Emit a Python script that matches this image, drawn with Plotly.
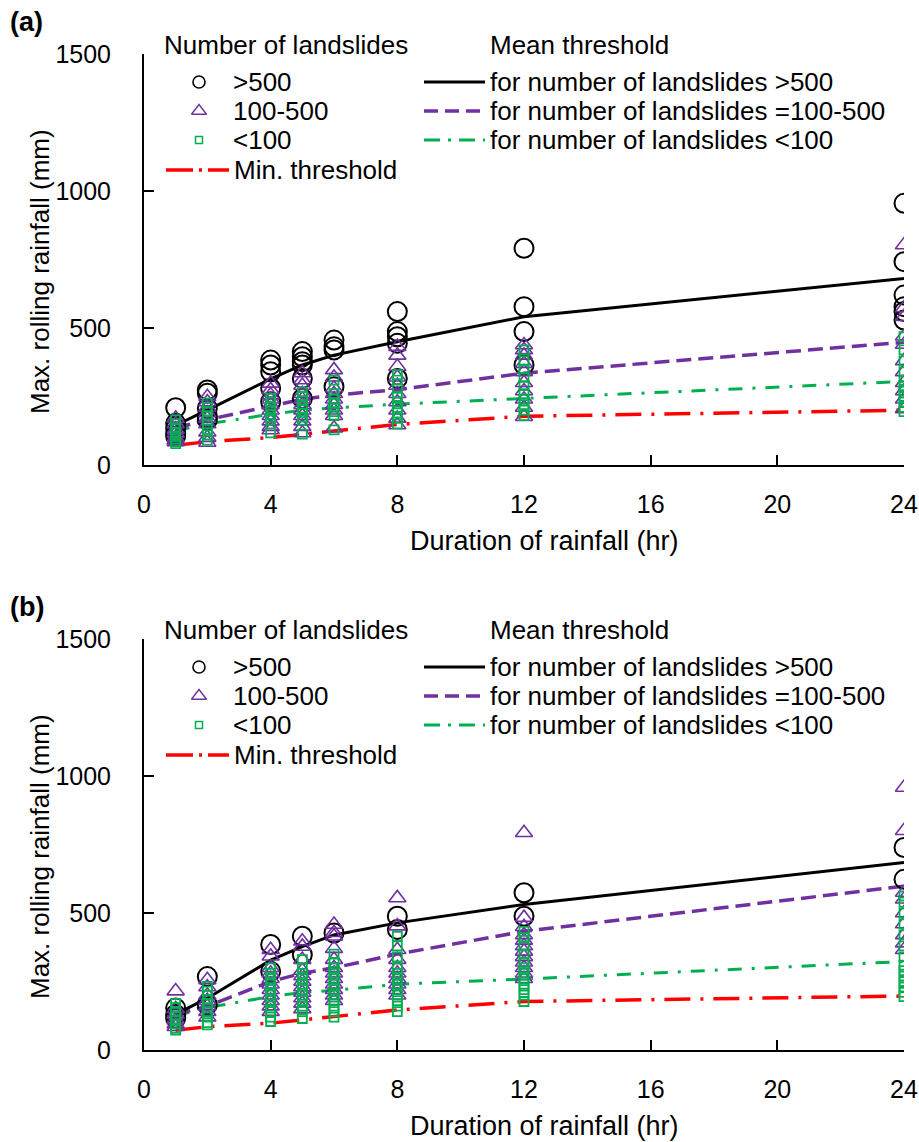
import plotly.graph_objects as go

# ---------------- data ----------------
HOURS = [1, 2, 4, 5, 6, 8, 12, 24]
X_TICKS = [0, 4, 8, 12, 16, 20, 24]
Y_TICKS = [0, 500, 1000, 1500]

# Panel (a): observed max rolling rainfall (mm) per duration
A_OVER500 = [[209, 152, 134, 116, 105],
             [274, 262, 207, 176, 165],
             [383, 365, 340, 280, 231],
             [414, 395, 377, 365, 316, 243],
             [456, 432, 420, 286],
             [560, 487, 468, 444, 316],
             [791, 578, 487, 365],
             [955, 742, 620, 578, 560, 529]]
A_100_500 = [[170, 150, 130, 115, 100, 90, 84],
             [249, 230, 210, 190, 170, 150, 120, 100, 82],
             [298, 274, 255, 240, 220, 200, 180, 160, 140, 128],
             [336, 310, 290, 260, 240, 220, 200, 180, 160, 140, 117],
             [347, 320, 280, 260, 240, 220, 200, 180, 134],
             [432, 400, 359, 320, 290, 260, 230, 200, 170, 146],
             [438, 420, 400, 370, 340, 300, 270, 240, 210, 176],
             [803, 573, 541, 470, 440, 380, 340, 300, 270, 240, 205]]
A_UNDER100 = [[165, 150, 135, 120, 105, 95, 85, 78],
              [226, 210, 195, 180, 165, 150, 130, 110, 91],
              [244, 230, 215, 200, 185, 175, 164, 117],
              [267, 250, 235, 220, 205, 190, 175, 164, 113],
              [310, 260, 240, 225, 210, 195, 180, 128],
              [330, 310, 280, 250, 230, 210, 190, 170, 150],
              [420, 380, 350, 320, 290, 260, 240, 220, 200, 180],
              [468, 420, 380, 340, 310, 290, 270, 250, 230, 210, 195]]
A_MEAN_OVER500 = [145, 200, 314, 365, 401, 450, 541, 681]
A_MEAN_100_500 = [135, 165, 215, 240, 255, 275, 335, 448]
A_MEAN_UNDER100 = [125, 150, 185, 200, 208, 222, 243, 305]
A_MIN = [72, 85, 100, 112, 125, 148, 178, 200]

# Panel (b)
B_OVER500 = [[153, 130, 116],
             [268, 165],
             [385, 287],
             [415, 348],
             [427],
             [488, 440],
             [574, 488],
             [739, 623]]
B_100_500 = [[215, 150, 130, 110, 95, 85],
             [256, 230, 200, 180, 160, 140, 120],
             [366, 342, 300, 280, 260, 240, 220, 200, 180, 160, 140],
             [397, 378, 330, 290, 270, 250, 230, 210, 190, 170, 150],
             [458, 428, 415, 370, 330, 300, 280, 260, 240, 220, 200, 180],
             [555, 452, 366, 330, 300, 280, 260, 240, 220, 200],
             [793, 483, 450, 420, 400, 380, 360, 340, 320, 300, 280, 260],
             [958, 800, 575, 550, 500, 460, 420, 390, 366]]
B_UNDER100 = [[170, 155, 140, 125, 110, 95, 80, 73],
              [232, 215, 200, 185, 170, 155, 140, 120, 100, 92],
              [300, 280, 260, 240, 220, 200, 180, 160, 140, 120, 104],
              [330, 300, 280, 260, 240, 220, 200, 180, 160, 140, 115],
              [350, 320, 300, 280, 260, 240, 220, 200, 180, 160, 140, 120],
              [415, 380, 340, 300, 280, 260, 240, 220, 200, 180, 160, 140],
              [433, 410, 380, 350, 320, 300, 280, 260, 240, 220, 200, 177],
              [562, 540, 500, 460, 420, 380, 340, 310, 290, 270, 250, 230, 210, 195]]
B_MEAN_OVER500 = [130, 189, 328, 377, 420, 464, 531, 684]
B_MEAN_100_500 = [130, 160, 250, 280, 300, 350, 433, 598]
B_MEAN_UNDER100 = [125, 155, 195, 210, 218, 240, 259, 323]
B_MIN = [72, 85, 98, 110, 122, 146, 177, 197]

LEG_MARKERS = [">500", "100-500", "<100"]
LEG_MIN = "Min. threshold"
LEG_MEANS = ["for number of landslides >500",
             "for number of landslides =100-500",
             "for number of landslides <100"]
HEAD_LEFT = "Number of landslides"
HEAD_RIGHT = "Mean threshold"
PANEL_LABELS = ["(a)", "(b)"]
X_TITLE = "Duration of rainfall (hr)"
Y_TITLE = "Max. rolling rainfall (mm)"

# ---------------- styling ----------------
W, H = 919, 1142
FONT = "Liberation Sans, Arial, sans-serif"
BLACK = "#000000"
PURPLE = "#7030A0"
GREEN = "#00B050"
RED = "#FF0000"
DASH_PURPLE = "15px,7px"
DASH_GREEN = "14px,10px,3px,10px"
DASH_RED = "26px,10px,3px,10px"
LEG_SIZE = 26

X0, X1 = 144, 904
PANELS = [dict(top=54, bottom=465, off=0), dict(top=639, bottom=1050, off=585)]


def flat(groups):
    xs, ys = [], []
    for h, vals in zip(HOURS, groups):
        for v in vals:
            xs.append(h)
            ys.append(v)
    return xs, ys


fig = go.Figure()

datasets = [
    (A_OVER500, A_100_500, A_UNDER100, A_MEAN_OVER500, A_MEAN_100_500, A_MEAN_UNDER100, A_MIN),
    (B_OVER500, B_100_500, B_UNDER100, B_MEAN_OVER500, B_MEAN_100_500, B_MEAN_UNDER100, B_MIN),
]

for i, ds in enumerate(datasets):
    xa = "x" if i == 0 else "x2"
    ya = "y" if i == 0 else "y2"
    big, mid, small, m_big, m_mid, m_small, mn = ds
    # threshold lines
    for vals, col, dash, w in [(mn, RED, DASH_RED, 3.5), (m_small, GREEN, DASH_GREEN, 3),
                               (m_mid, PURPLE, DASH_PURPLE, 3.5), (m_big, BLACK, "solid", 3)]:
        fig.add_trace(go.Scatter(x=HOURS, y=vals, mode="lines", xaxis=xa, yaxis=ya,
                                 line=dict(color=col, width=w, dash=dash), showlegend=False,
                                 hoverinfo="skip"))
    # observations
    for groups, sym, col, size, lw in [(big, "circle-open", BLACK, 19, 2),
                                       (mid, "triangle-up-open", PURPLE, 15, 1.6),
                                       (small, "square-open", GREEN, 9, 1.8)]:
        xs, ys = flat(groups)
        fig.add_trace(go.Scatter(x=xs, y=ys, mode="markers", xaxis=xa, yaxis=ya,
                                 marker=dict(symbol=sym, size=size, color=col,
                                             line=dict(color=col, width=lw)),
                                 showlegend=False))

# legend glyphs on an invisible full-page pixel axis
for p in PANELS:
    o = p["off"]
    for (sym, col, size, lw), yy in zip([("circle-open", BLACK, 12, 1.6),
                                         ("triangle-up-open", PURPLE, 13, 1.4),
                                         ("square-open", GREEN, 7, 1.5)], [82, 111, 140]):
        fig.add_trace(go.Scatter(x=[199], y=[yy + o], mode="markers", xaxis="x3", yaxis="y3",
                                 marker=dict(symbol=sym, size=size, color=col,
                                             line=dict(color=col, width=lw)),
                                 showlegend=False, hoverinfo="skip"))
    fig.add_trace(go.Scatter(x=[166, 229], y=[170 + o, 170 + o], mode="lines", xaxis="x3", yaxis="y3",
                             line=dict(color=RED, width=3.5, dash="27px,6px,3px,6px"),
                             showlegend=False, hoverinfo="skip"))
    for (col, dash, w), yy in zip([(BLACK, "solid", 3), (PURPLE, "14px,7px", 3.5),
                                   (GREEN, "16px,8px,3px,8px", 3)], [82, 111, 140]):
        fig.add_trace(go.Scatter(x=[424, 485], y=[yy + o, yy + o], mode="lines", xaxis="x3", yaxis="y3",
                                 line=dict(color=col, width=w, dash=dash),
                                 showlegend=False, hoverinfo="skip"))


def px(x):
    return x / W


def py(y):
    return 1 - y / H


annotations = []
for k, p in enumerate(PANELS):
    o = p["off"]
    annotations.append(dict(text="<b>" + PANEL_LABELS[k] + "</b>", x=px(8), y=py(22 + o),
                            xanchor="left", yanchor="middle", font=dict(size=27)))
    annotations.append(dict(text=HEAD_LEFT, x=px(162), y=py(45 + o), xanchor="left", yanchor="middle"))
    annotations.append(dict(text=HEAD_RIGHT, x=px(488), y=py(45 + o), xanchor="left", yanchor="middle"))
    for t, yy in zip(LEG_MARKERS, [82, 111, 140]):
        annotations.append(dict(text=t, x=px(231), y=py(yy + o), xanchor="left", yanchor="middle"))
    annotations.append(dict(text=LEG_MIN, x=px(232), y=py(170 + o), xanchor="left", yanchor="middle"))
    for t, yy in zip(LEG_MEANS, [82, 111, 140]):
        annotations.append(dict(text=t, x=px(488), y=py(yy + o), xanchor="left", yanchor="middle"))
    annotations.append(dict(text=X_TITLE, x=px(544), y=py(541 + o), xanchor="center", yanchor="middle",
                            font=dict(size=27)))
    annotations.append(dict(text=Y_TITLE, x=px(40), y=py(272 + o), xanchor="center", yanchor="middle",
                            textangle=-90, font=dict(size=26)))
for a in annotations:
    a.update(xref="paper", yref="paper", showarrow=False)
    a.setdefault("font", dict(size=LEG_SIZE))
    a["font"].update(family=FONT, color=BLACK)
    if "size" not in a["font"]:
        a["font"]["size"] = LEG_SIZE

xcommon = dict(range=[0, 24], tickvals=X_TICKS, showline=True, linecolor=BLACK, linewidth=2,
               ticks="inside", ticklen=10, tickwidth=2, tickcolor=BLACK, showgrid=False,
               zeroline=False, tickfont=dict(family=FONT, size=25, color=BLACK),
               ticklabelstandoff=16, domain=[px(X0), px(X1)], automargin=False)
ycommon = dict(range=[0, 1500], tickvals=Y_TICKS, showline=True, linecolor=BLACK, linewidth=2,
               ticks="inside", ticklen=10, tickwidth=2, tickcolor=BLACK, showgrid=False,
               zeroline=False, tickfont=dict(family=FONT, size=25, color=BLACK),
               ticklabelstandoff=26, automargin=False)

fig.update_layout(
    width=W, height=H, autosize=False,
    margin=dict(l=0, r=0, t=0, b=0, pad=0),
    paper_bgcolor="white", plot_bgcolor="rgba(0,0,0,0)",
    font=dict(family=FONT, color=BLACK),
    xaxis=dict(xcommon, anchor="y"),
    yaxis=dict(ycommon, anchor="x", domain=[py(PANELS[0]["bottom"]), py(PANELS[0]["top"])]),
    xaxis2=dict(xcommon, anchor="y2"),
    yaxis2=dict(ycommon, anchor="x2", domain=[py(PANELS[1]["bottom"]), py(PANELS[1]["top"])]),
    xaxis3=dict(range=[0, W], domain=[0, 1], visible=False, anchor="y3", fixedrange=True,
                automargin=False),
    yaxis3=dict(range=[H, 0], domain=[0, 1], visible=False, anchor="x3", fixedrange=True,
                automargin=False),
    annotations=annotations,
    showlegend=False,
)

fig.write_html("out.html")
